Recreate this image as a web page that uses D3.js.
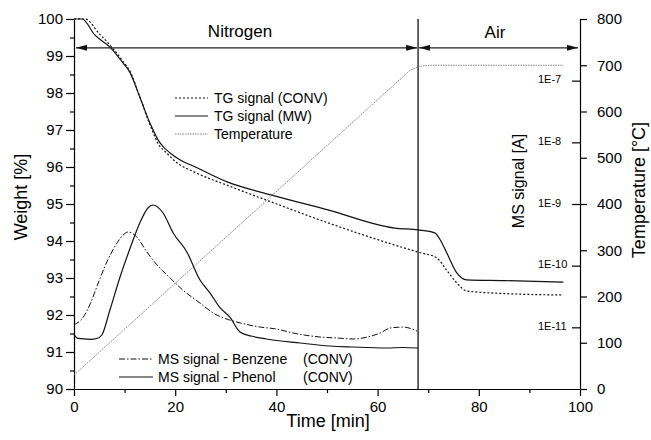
<!DOCTYPE html>
<html>
<head>
<meta charset="utf-8">
<script src="https://cdn.jsdelivr.net/npm/d3@7.9.0/dist/d3.min.js"></script>
<style>
  body { margin: 0; background: #fff; }
  svg { font-family: "Liberation Sans", Arial, sans-serif; }
</style>
</head>
<body>
<svg id="chart" width="651" height="440"></svg>
<script>
// values
const timeTicks = [0, 20, 40, 60, 80, 100];
const weightTicks = [90, 91, 92, 93, 94, 95, 96, 97, 98, 99, 100];
const tempTicks = [0, 100, 200, 300, 400, 500, 600, 700, 800];
const msTicks = [1e-11, 1e-10, 1e-9, 1e-8, 1e-7];

// TG signal (CONV) [min, %]
const tgConvTime = [0, 2.2, 5, 7.1, 9.7, 11, 13, 15, 17, 18, 20, 24, 30.4, 39.1, 50.2, 63.4, 68, 71.7, 73.7, 75.7, 77.6, 85, 96.7];
const tgConvWeight = [100, 100, 99.6, 99.3, 98.85, 98.6, 97.9, 97.15, 96.55, 96.42, 96.15, 95.85, 95.5, 95.05, 94.49, 93.89, 93.7, 93.54, 93.2, 92.86, 92.65, 92.58, 92.54];

// TG signal (MW)
const tgMwTime = [0, 1.6, 4.1, 7.1, 9.7, 11, 13, 15, 17, 19, 21, 24, 30.4, 39.1, 50.2, 63.4, 68, 71.3, 72.5, 73.7, 75.7, 77.6, 85, 96.7];
const tgMwWeight = [100, 100, 99.57, 99.24, 98.81, 98.57, 97.89, 97.19, 96.65, 96.38, 96.19, 96.0, 95.59, 95.24, 94.84, 94.35, 94.3, 94.22, 94.0, 93.67, 93.13, 92.95, 92.93, 92.89];

// Temperature [min, °C]
const tempTime = [0, 66.5, 68.5, 70.5, 96.7];
const tempValue = [30, 690, 698, 700, 700];

// MS signal - Benzene (CONV) [min, A]
const benzeneTime = [0, 1.8, 3.2, 4.8, 6.5, 8.5, 9.7, 10.7, 12.4, 14.4, 16.4, 19, 21.5, 24.9, 27.5, 30.8, 33, 36.8, 40, 43.3, 48.6, 52, 55.2, 58, 60.5, 62.5, 65, 67.8];
const benzeneSignal = [1.1e-11, 1.45e-11, 2.4e-11, 5.24e-11, 1.15e-10, 2.33e-10, 3.14e-10, 3.52e-10, 2.92e-10, 1.67e-10, 1.03e-10, 6.31e-11, 4.03e-11, 2.48e-11, 1.71e-11, 1.31e-11, 1.17e-11, 1.01e-11, 9.4e-12, 8.09e-12, 6.97e-12, 6.71e-12, 6.47e-12, 6.97e-12, 8.09e-12, 9.75e-12, 1.01e-11, 8.72e-12];

// MS signal - Phenol (CONV)
const phenolTime = [0, 0.8, 3.2, 4.5, 5.5, 7.1, 9.1, 11.1, 13, 14.6, 15.6, 17.6, 19.6, 22.3, 24.9, 26.9, 28.9, 30.8, 32.8, 35, 38, 44.7, 50.6, 55, 61.8, 65, 68];
const phenolSignal = [7.6e-12, 6.6e-12, 6.4e-12, 6.6e-12, 7.51e-12, 1.91e-11, 6.55e-11, 1.93e-10, 4.92e-10, 8.61e-10, 9.64e-10, 7.14e-10, 3.39e-10, 1.67e-10, 5.85e-11, 3.6e-11, 2.06e-11, 1.47e-11, 8.4e-12, 7.23e-12, 6.47e-12, 5.57e-12, 4.98e-12, 4.8e-12, 4.62e-12, 4.71e-12, 4.62e-12];

const gasSwitch = 68; // Nitrogen -> Air

const svg = d3.select('#chart');
svg.append('rect').attr('width', 651).attr('height', 440).attr('fill', '#fff');

const plotLeft = 74, plotRight = 580, plotTop = 19, plotBottom = 389;

const x = d3.scaleLinear().domain([0, 100]).range([plotLeft, plotRight]);
const yW = d3.scaleLinear().domain([90, 100]).range([plotBottom, plotTop]);
const yT = d3.scaleLinear().domain([0, 800]).range([plotBottom, plotTop]);
const yMS = d3.scaleLog().domain([1e-12, 1e-6]).range([plotBottom, plotTop]);

// arrow head
svg.append('defs').append('marker')
  .attr('id', 'arrow')
  .attr('viewBox', '0 0 11 6')
  .attr('refX', 11).attr('refY', 3)
  .attr('markerWidth', 11).attr('markerHeight', 6)
  .attr('markerUnits', 'userSpaceOnUse')
  .attr('orient', 'auto-start-reverse')
  .append('path').attr('d', 'M0,0L11,3L0,6Z').attr('fill', '#111');

// axes
function styleAxis(g, size) {
  g.selectAll('path, line').attr('stroke', '#000').attr('stroke-width', 1.2);
  g.selectAll('text').attr('font-size', size).attr('fill', '#000')
    .attr('font-family', '"Liberation Sans", Arial, sans-serif');
}

svg.append('g').attr('transform', `translate(0,${plotBottom})`)
  .call(d3.axisBottom(x).tickValues([10, 30, 50, 70, 90]).tickSize(4).tickFormat(''))
  .call(g => g.select('.domain').remove())
  .call(g => styleAxis(g, 15));
svg.append('g').attr('transform', `translate(0,${plotBottom})`)
  .call(d3.axisBottom(x).tickValues(timeTicks).tickSize(7).tickSizeOuter(0).tickPadding(5))
  .call(g => styleAxis(g, 15));

svg.append('g').attr('transform', `translate(${plotLeft},0)`)
  .call(d3.axisLeft(yW).tickValues(d3.range(90.5, 100, 1)).tickSize(4).tickFormat(''))
  .call(g => g.select('.domain').remove())
  .call(g => styleAxis(g, 15));
svg.append('g').attr('transform', `translate(${plotLeft},0)`)
  .call(d3.axisLeft(yW).tickValues(weightTicks).tickSize(8).tickSizeOuter(0).tickPadding(3))
  .call(g => styleAxis(g, 15));

svg.append('g').attr('transform', `translate(${plotRight},0)`)
  .call(d3.axisRight(yT).tickValues(tempTicks).tickSize(7).tickSizeOuter(0).tickPadding(10))
  .call(g => styleAxis(g, 15));

svg.append('g').attr('transform', `translate(${plotRight},0)`)
  .call(d3.axisLeft(yMS).tickValues(msTicks).tickSize(8).tickSizeOuter(0)
    .tickFormat(d => '1E' + Math.round(Math.log10(d))))
  .call(g => g.select('.domain').remove())
  .call(g => styleAxis(g, 11))
  .call(g => g.selectAll('text').attr('text-anchor', 'start').attr('x', -42).attr('dy', '0.2em'));

// axis titles
svg.append('text').attr('x', 328).attr('y', 427).attr('text-anchor', 'middle')
  .attr('font-size', 18).text('Time [min]');
svg.append('text').attr('transform', 'translate(27,197) rotate(-90)').attr('text-anchor', 'middle')
  .attr('font-size', 18).text('Weight [%]');
svg.append('text').attr('transform', 'translate(524,181) rotate(-90)').attr('text-anchor', 'middle')
  .attr('font-size', 16).text('MS signal [A]');
svg.append('text').attr('transform', 'translate(645,190) rotate(-90)').attr('text-anchor', 'middle')
  .attr('font-size', 18).text('Temperature [°C]');

// gas switch and atmosphere arrows
svg.append('line')
  .attr('x1', x(gasSwitch)).attr('x2', x(gasSwitch))
  .attr('y1', plotTop).attr('y2', plotBottom)
  .attr('stroke', '#000').attr('stroke-width', 1.2);

const arrowY = yW(99.22);
svg.append('line')
  .attr('x1', x(0) + 2).attr('x2', x(gasSwitch) - 1)
  .attr('y1', arrowY).attr('y2', arrowY)
  .attr('stroke', '#222').attr('stroke-width', 1.3)
  .attr('marker-start', 'url(#arrow)').attr('marker-end', 'url(#arrow)');
svg.append('line')
  .attr('x1', x(gasSwitch) + 1).attr('x2', x(100) - 2)
  .attr('y1', arrowY).attr('y2', arrowY)
  .attr('stroke', '#222').attr('stroke-width', 1.3)
  .attr('marker-start', 'url(#arrow)').attr('marker-end', 'url(#arrow)');

svg.append('text').attr('x', 240).attr('y', 37).attr('text-anchor', 'middle')
  .attr('font-size', 17).text('Nitrogen');
svg.append('text').attr('x', 495).attr('y', 38).attr('text-anchor', 'middle')
  .attr('font-size', 17).text('Air');

// curves
function drawCurve(ts, vs, yScale, dash, color, width, curve) {
  const pts = ts.map((t, i) => [t, vs[i]]);
  svg.append('path')
    .datum(pts)
    .attr('fill', 'none')
    .attr('stroke', color)
    .attr('stroke-width', width)
    .attr('stroke-dasharray', dash)
    .attr('d', d3.line().curve(curve || d3.curveMonotoneX)
      .x(d => x(d[0])).y(d => yScale(d[1])));
}

drawCurve(tempTime, tempValue, yT, '1.5,1', '#666', 0.8, d3.curveLinear);
drawCurve(benzeneTime, benzeneSignal, yMS, '6,2,1.5,2', '#111', 1);
drawCurve(phenolTime, phenolSignal, yMS, null, '#111', 1.2);
drawCurve(tgConvTime, tgConvWeight, yW, '2,2', '#111', 1.2);
drawCurve(tgMwTime, tgMwWeight, yW, null, '#111', 1.2);

// legends
const legend1 = [
  { label: 'TG signal (CONV)', dash: '2,2', color: '#111', width: 1.2 },
  { label: 'TG signal (MW)', dash: null, color: '#111', width: 1.2 },
  { label: 'Temperature', dash: '1.5,1', color: '#666', width: 0.8 }
];
legend1.forEach((d, i) => {
  const by = 103 + i * 18;
  svg.append('line').attr('x1', 175).attr('x2', 208).attr('y1', by - 5).attr('y2', by - 5)
    .attr('stroke', d.color).attr('stroke-width', d.width).attr('stroke-dasharray', d.dash);
  svg.append('text').attr('x', 214).attr('y', by).attr('font-size', 14).text(d.label);
});

const legend2 = [
  { label: 'MS signal - Benzene', dash: '6,2,1.5,2', width: 1 },
  { label: 'MS signal - Phenol', dash: null, width: 1.2 }
];
legend2.forEach((d, i) => {
  const by = 364 + i * 18;
  svg.append('line').attr('x1', 119).attr('x2', 153).attr('y1', by - 5).attr('y2', by - 5)
    .attr('stroke', '#111').attr('stroke-width', d.width).attr('stroke-dasharray', d.dash);
  svg.append('text').attr('x', 158).attr('y', by).attr('font-size', 14).text(d.label);
  svg.append('text').attr('x', 303).attr('y', by).attr('font-size', 14).text('(CONV)');
});
</script>
</body>
</html>
